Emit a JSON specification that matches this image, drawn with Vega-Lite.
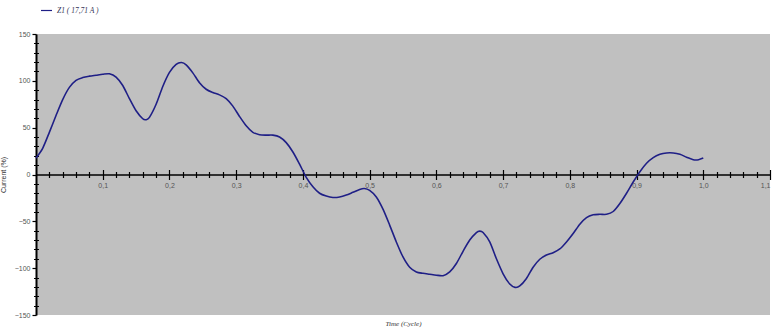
{
  "$schema": "https://vega.github.io/schema/vega-lite/v6.json",
  "autosize": {"type": "none"},
  "padding": {"left": 36, "top": 34, "right": 4, "bottom": 14},
  "width": 734,
  "height": 281,
  "background": "white",
  "config": {
    "view": {"fill": "#c0c0c0", "stroke": null},
    "axis": {
      "grid": false,
      "domainColor": "#000000",
      "tickColor": "#000000",
      "labelFont": "Liberation Sans",
      "labelFontSize": 7,
      "labelColor": "#555555",
      "titleFont": "Liberation Serif",
      "titleFontSize": 7,
      "titleFontStyle": "italic",
      "titleFontWeight": "normal",
      "titleColor": "#333333"
    }
  },
  "datasets": {
    "wave": [
      {"t": 0.000, "current": 17.7},
      {"t": 0.010, "current": 28},
      {"t": 0.020, "current": 45},
      {"t": 0.030, "current": 63},
      {"t": 0.040, "current": 80},
      {"t": 0.050, "current": 93},
      {"t": 0.060, "current": 100.5},
      {"t": 0.070, "current": 103.5},
      {"t": 0.080, "current": 105},
      {"t": 0.090, "current": 106},
      {"t": 0.100, "current": 107},
      {"t": 0.110, "current": 107.5},
      {"t": 0.120, "current": 104},
      {"t": 0.130, "current": 95},
      {"t": 0.140, "current": 81},
      {"t": 0.150, "current": 68},
      {"t": 0.160, "current": 59.5},
      {"t": 0.165, "current": 58.5},
      {"t": 0.170, "current": 61},
      {"t": 0.180, "current": 75},
      {"t": 0.190, "current": 94},
      {"t": 0.200, "current": 109},
      {"t": 0.210, "current": 117.5},
      {"t": 0.218, "current": 119.5},
      {"t": 0.225, "current": 117},
      {"t": 0.235, "current": 108.5},
      {"t": 0.245, "current": 98},
      {"t": 0.255, "current": 91},
      {"t": 0.265, "current": 87.5},
      {"t": 0.275, "current": 85},
      {"t": 0.285, "current": 81},
      {"t": 0.295, "current": 73},
      {"t": 0.305, "current": 62},
      {"t": 0.315, "current": 52},
      {"t": 0.325, "current": 45},
      {"t": 0.335, "current": 42.5},
      {"t": 0.345, "current": 42},
      {"t": 0.355, "current": 42},
      {"t": 0.365, "current": 40},
      {"t": 0.375, "current": 34},
      {"t": 0.385, "current": 24},
      {"t": 0.395, "current": 11},
      {"t": 0.405, "current": -3},
      {"t": 0.415, "current": -13},
      {"t": 0.425, "current": -20},
      {"t": 0.435, "current": -23},
      {"t": 0.445, "current": -24.5},
      {"t": 0.455, "current": -24},
      {"t": 0.465, "current": -22},
      {"t": 0.475, "current": -19},
      {"t": 0.485, "current": -16},
      {"t": 0.492, "current": -15},
      {"t": 0.500, "current": -17},
      {"t": 0.510, "current": -24},
      {"t": 0.520, "current": -37},
      {"t": 0.530, "current": -54},
      {"t": 0.540, "current": -72},
      {"t": 0.550, "current": -88},
      {"t": 0.560, "current": -99},
      {"t": 0.570, "current": -104},
      {"t": 0.580, "current": -105.5},
      {"t": 0.590, "current": -106.5},
      {"t": 0.600, "current": -107.5},
      {"t": 0.610, "current": -108},
      {"t": 0.620, "current": -104},
      {"t": 0.630, "current": -95},
      {"t": 0.640, "current": -82},
      {"t": 0.650, "current": -70},
      {"t": 0.660, "current": -62},
      {"t": 0.665, "current": -60.5},
      {"t": 0.670, "current": -62},
      {"t": 0.680, "current": -72},
      {"t": 0.690, "current": -90},
      {"t": 0.700, "current": -106},
      {"t": 0.710, "current": -117},
      {"t": 0.718, "current": -120.5},
      {"t": 0.725, "current": -119},
      {"t": 0.735, "current": -111},
      {"t": 0.745, "current": -99},
      {"t": 0.755, "current": -90.5},
      {"t": 0.765, "current": -86},
      {"t": 0.775, "current": -83.5},
      {"t": 0.785, "current": -79.5},
      {"t": 0.795, "current": -72},
      {"t": 0.805, "current": -63},
      {"t": 0.815, "current": -53},
      {"t": 0.825, "current": -46},
      {"t": 0.835, "current": -43},
      {"t": 0.845, "current": -42.5},
      {"t": 0.855, "current": -42.5},
      {"t": 0.865, "current": -39.5},
      {"t": 0.875, "current": -31},
      {"t": 0.885, "current": -20},
      {"t": 0.895, "current": -8},
      {"t": 0.905, "current": 3},
      {"t": 0.915, "current": 12},
      {"t": 0.925, "current": 18},
      {"t": 0.935, "current": 21.5},
      {"t": 0.945, "current": 23},
      {"t": 0.955, "current": 23},
      {"t": 0.965, "current": 21.5},
      {"t": 0.975, "current": 18.5},
      {"t": 0.985, "current": 15.8},
      {"t": 0.993, "current": 15.8},
      {"t": 1.000, "current": 17.5}
    ]
  },
  "data": {"name": "wave"},
  "resolve": {"axis": {"x": "independent", "y": "independent"}},
  "layer": [
    {
      "mark": {"type": "line", "interpolate": "cardinal", "tension": 0.2, "strokeWidth": 1.6},
      "encoding": {
        "x": {
          "field": "t", "type": "quantitative",
          "scale": {"domain": [0, 1.1], "nice": false},
          "axis": {
            "orient": "bottom", "offset": -140.5,
            "values": [0.1, 0.2, 0.3, 0.4, 0.5, 0.6, 0.7, 0.8, 0.9, 1.0, 1.1],
            "labelExpr": "replace(format(datum.value, '.1f'), '.', ',')",
            "tickSize": 5, "tickWidth": 1.2, "labelPadding": 2,
            "domainWidth": 1.5, "title": null
          }
        },
        "y": {
          "field": "current", "type": "quantitative",
          "scale": {"domain": [-150, 150], "nice": false},
          "axis": {
            "orient": "left",
            "values": [-150, -100, -50, 0, 50, 100, 150],
            "tickSize": 4, "tickWidth": 1.2, "labelPadding": 2,
            "domainWidth": 2, "title": "Current (%)",
            "titleFont": "Liberation Sans", "titleFontStyle": "normal",
            "titlePadding": 8
          }
        },
        "color": {
          "datum": "Z1 ( 17,71 A )",
          "scale": {"range": ["#1f1f86"]},
          "legend": {
            "title": null, "orient": "none", "legendX": 4, "legendY": -30,
            "symbolType": "stroke", "symbolSize": 120, "symbolStrokeWidth": 1.2,
            "labelFont": "Liberation Serif", "labelFontStyle": "italic",
            "labelFontSize": 7.5, "labelColor": "#333355"
          }
        }
      }
    },
    {
      "mark": {"type": "line", "opacity": 0},
      "encoding": {
        "x": {
          "field": "t", "type": "quantitative",
          "scale": {"domain": [0, 1.1], "nice": false},
          "axis": {
            "orient": "top", "offset": -140.5,
            "values": [0.1, 0.2, 0.3, 0.4, 0.5, 0.6, 0.7, 0.8, 0.9, 1.0, 1.1],
            "tickSize": 5, "tickWidth": 1.2, "labels": false, "domain": false, "title": null
          }
        },
        "y": {
          "field": "current", "type": "quantitative",
          "scale": {"domain": [-150, 150], "nice": false},
          "axis": {
            "orient": "left",
            "values": [-140, -130, -120, -110, -90, -80, -70, -60, -40, -30, -20, -10, 10, 20, 30, 40, 60, 70, 80, 90, 110, 120, 130, 140],
            "tickSize": 2.5, "labels": false, "domain": false, "title": null
          }
        }
      }
    },
    {
      "mark": {"type": "line", "opacity": 0},
      "encoding": {
        "x": {
          "field": "t", "type": "quantitative",
          "scale": {"domain": [0, 1.1], "nice": false},
          "axis": {
            "orient": "bottom", "offset": -140.5,
            "values": [0.02, 0.04, 0.06, 0.08, 0.12, 0.14, 0.16, 0.18, 0.22, 0.24, 0.26, 0.28, 0.32, 0.34, 0.36, 0.38, 0.42, 0.44, 0.46, 0.48, 0.52, 0.54, 0.56, 0.58, 0.62, 0.64, 0.66, 0.68, 0.72, 0.74, 0.76, 0.78, 0.82, 0.84, 0.86, 0.88, 0.92, 0.94, 0.96, 0.98, 1.02, 1.04, 1.06, 1.08],
            "tickSize": 3, "tickWidth": 1.2, "labels": false, "domain": false, "title": null
          }
        },
        "y": {
          "field": "current", "type": "quantitative",
          "scale": {"domain": [-150, 150], "nice": false},
          "axis": {
            "orient": "right", "offset": -734,
            "values": [-140, -130, -120, -110, -90, -80, -70, -60, -40, -30, -20, -10, 10, 20, 30, 40, 60, 70, 80, 90, 110, 120, 130, 140],
            "tickSize": 2.5, "labels": false, "domain": false, "title": null
          }
        }
      }
    },
    {
      "mark": {"type": "line", "opacity": 0},
      "encoding": {
        "x": {
          "field": "t", "type": "quantitative",
          "scale": {"domain": [0, 1.1], "nice": false},
          "axis": {
            "orient": "top", "offset": -140.5,
            "values": [0.02, 0.04, 0.06, 0.08, 0.12, 0.14, 0.16, 0.18, 0.22, 0.24, 0.26, 0.28, 0.32, 0.34, 0.36, 0.38, 0.42, 0.44, 0.46, 0.48, 0.52, 0.54, 0.56, 0.58, 0.62, 0.64, 0.66, 0.68, 0.72, 0.74, 0.76, 0.78, 0.82, 0.84, 0.86, 0.88, 0.92, 0.94, 0.96, 0.98, 1.02, 1.04, 1.06, 1.08],
            "tickSize": 3, "tickWidth": 1.2, "labels": false, "domain": false, "title": null
          }
        },
        "y": {"field": "current", "type": "quantitative", "scale": {"domain": [-150, 150], "nice": false}, "axis": null}
      }
    },
    {
      "mark": {"type": "line", "opacity": 0},
      "encoding": {
        "x": {
          "field": "t", "type": "quantitative",
          "scale": {"domain": [0, 1.1], "nice": false},
          "axis": {
            "orient": "bottom", "offset": 0,
            "ticks": false, "labels": false, "domain": false,
            "title": "Time (Cycle)", "titlePadding": 4
          }
        },
        "y": {"field": "current", "type": "quantitative", "scale": {"domain": [-150, 150], "nice": false}, "axis": null}
      }
    }
  ]
}
